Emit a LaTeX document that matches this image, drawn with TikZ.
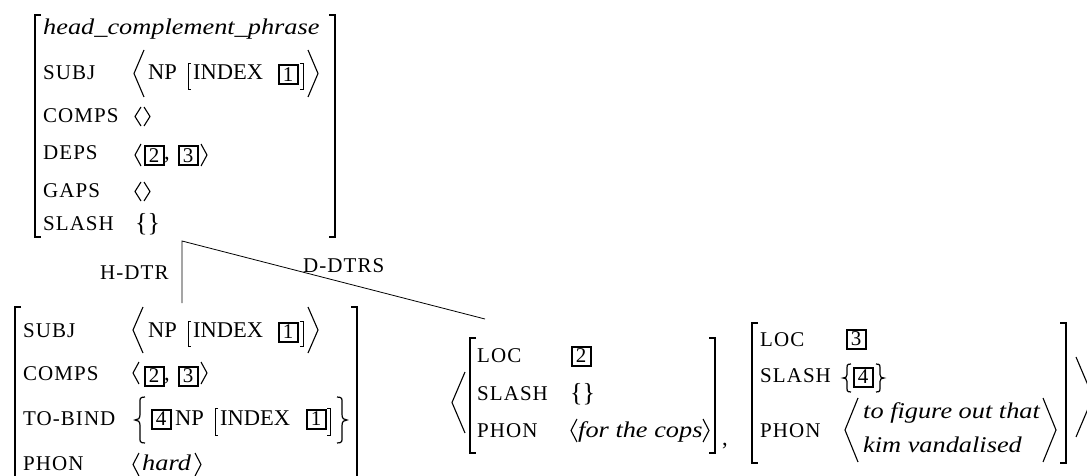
\documentclass[tikz,border=0pt]{standalone}
\usepackage{fontspec}
\setmainfont{Liberation Serif}
\newfontfamily\itfam{Liberation Serif Italic}[FakeStretch=1.17]
\newfontfamily\featfam{Liberation Serif}[LetterSpace=5]
\newcommand\rmsz{\fontsize{22.5}{27}\selectfont}
\newcommand\ftsz{\featfam\fontsize{21}{24}\selectfont}
\newcommand\itsz{\itfam\fontsize{22.5}{27}\selectfont}
\newcommand\avmLB[5]{\draw[#5] ({#1+#4},#2) -- (#1,#2) -- (#1,#3) -- ({#1+#4},#3);}
\newcommand\avmRB[5]{\draw[#5] ({#1-#4},#2) -- (#1,#2) -- (#1,#3) -- ({#1-#4},#3);}
\newcommand\avmLA[5]{\draw[#5] ({#1+#4},#2) -- (#1,{(#2+#3)/2}) -- ({#1+#4},#3);}
\newcommand\avmRA[5]{\draw[#5] ({#1-#4},#2) -- (#1,{(#2+#3)/2}) -- ({#1-#4},#3);}
\newcommand\avmLBr[4]{\draw[brc] ({#1+#4},#2) .. controls ({#1+#4*0.45},#2) and ({#1+#4*0.5},{#2+2}) .. ({#1+#4*0.5},{#2+0.12*(#3-#2)}) -- ({#1+#4*0.5},{#2+0.38*(#3-#2)}) .. controls ({#1+#4*0.5},{#2+0.47*(#3-#2)}) and ({#1+#4*0.3},{(#2+#3)/2}) .. (#1,{(#2+#3)/2}) .. controls ({#1+#4*0.3},{(#2+#3)/2}) and ({#1+#4*0.5},{#3-0.47*(#3-#2)}) .. ({#1+#4*0.5},{#3-0.38*(#3-#2)}) -- ({#1+#4*0.5},{#3-0.12*(#3-#2)}) .. controls ({#1+#4*0.5},{#3-2}) and ({#1+#4*0.45},#3) .. ({#1+#4},#3);}
\newcommand\avmRBr[4]{\draw[brc] ({#1-#4},#2) .. controls ({#1-#4*0.45},#2) and ({#1-#4*0.5},{#2+2}) .. ({#1-#4*0.5},{#2+0.12*(#3-#2)}) -- ({#1-#4*0.5},{#2+0.38*(#3-#2)}) .. controls ({#1-#4*0.5},{#2+0.47*(#3-#2)}) and ({#1-#4*0.3},{(#2+#3)/2}) .. (#1,{(#2+#3)/2}) .. controls ({#1-#4*0.3},{(#2+#3)/2}) and ({#1-#4*0.5},{#3-0.47*(#3-#2)}) .. ({#1-#4*0.5},{#3-0.38*(#3-#2)}) -- ({#1-#4*0.5},{#3-0.12*(#3-#2)}) .. controls ({#1-#4*0.5},{#3-2}) and ({#1-#4*0.45},#3) .. ({#1-#4},#3);}
\tikzset{
  txt/.style={anchor=base west, inner sep=0pt, font=\rmsz},
  feat/.style={anchor=base west, inner sep=0pt, font=\ftsz},
  itx/.style={anchor=base west, inner sep=0pt, font=\itsz},
  brtxt/.style={anchor=base west, inner sep=0pt, font=\fontsize{26}{28}\selectfont},
  tag/.style={draw, line width=2pt, inner sep=0pt, minimum width=19pt, minimum height=19pt, font=\fontsize{21}{21}\selectfont},
  brk/.style={line width=1.8pt},
  thin/.style={line width=0.9pt},
  ang/.style={line width=1.1pt},
  brc/.style={line width=1.2pt},
  tree/.style={line width=0.8pt}
}
\begin{document}
\begin{tikzpicture}[x=1pt,y=-1pt]
\useasboundingbox (0,0) rectangle (1087,476);
% ---- top AVM
\avmLB{35}{15}{237}{6}{brk}
\avmRB{335}{15}{237}{6}{brk}
\node[itx] (top-type) at (43,35) {head\_complement\_phrase};
\node[feat] (top-subj) at (43,80) {SUBJ};
\avmLA{134}{50}{97}{10}{ang}
\node[txt] (top-np) at (148,80) {NP};
\avmLB{188}{63}{89}{3}{thin}
\node[txt] (top-index) at (193,80) {INDEX};
\node[tag] (top-t1) at (288,75) {1};
\avmRB{303}{63}{89}{3}{thin}
\avmRA{318}{50}{97}{10}{ang}
\node[feat] (top-comps) at (43,123) {COMPS};
\avmLA{135}{107}{126}{6}{ang}
\avmRA{150}{107}{126}{6}{ang}
\node[feat] (top-deps) at (43,160) {DEPS};
\avmLA{135}{144}{166}{6}{ang}
\node[tag] (top-t2) at (154,156) {2};
\node[txt] (top-comma) at (164,160) {,};
\node[tag] (top-t3) at (188,156) {3};
\avmRA{207}{144}{166}{6}{ang}
\node[feat] (top-gaps) at (43,197) {GAPS};
\avmLA{135}{182}{201}{6}{ang}
\avmRA{150}{182}{201}{6}{ang}
\node[feat] (top-slash) at (43,230) {SLASH};
\node[brtxt] (top-slashv) at (135,231) {\{\}};
% ---- tree
\coordinate (apex) at (182,241);
\coordinate (hd-top) at (182,303);
\coordinate (dd-end) at (485,319);
\draw[tree] (hd-top) -- (apex) -- (dd-end);
\node[feat] (hdtr) at (100,279) {H-DTR};
\node[feat] (ddtrs) at (303,272) {D-DTRS};
% ---- head daughter
\avmLB{15}{307}{500}{6}{brk}
\avmRB{357}{307}{500}{6}{brk}
\node[feat] (hd-subj) at (23,337) {SUBJ};
\avmLA{133}{307}{353}{10}{ang}
\node[txt] (hd-np) at (148,337) {NP};
\avmLB{188}{321}{346}{3}{thin}
\node[txt] (hd-index) at (193,337) {INDEX};
\node[tag] (hd-t1) at (288,332) {1};
\avmRB{303}{321}{346}{3}{thin}
\avmRA{318}{307}{353}{10}{ang}
\node[feat] (hd-comps) at (23,380) {COMPS};
\avmLA{133}{362}{384}{6}{ang}
\node[tag] (hd-t2) at (154,376) {2};
\node[txt] (hd-comma) at (164,380) {,};
\node[tag] (hd-t3) at (188,376) {3};
\avmRA{207}{362}{384}{6}{ang}
\node[feat] (hd-tobind) at (23,425) {TO-BIND};
\avmLBr{135}{397}{443}{10}
\node[tag] (hd-t4) at (161,419) {4};
\node[txt] (hd-np2) at (175,425) {NP};
\avmLB{215}{408}{435}{3}{thin}
\node[txt] (hd-index2) at (220,425) {INDEX};
\node[tag] (hd-t1b) at (316,419) {1};
\avmRB{330}{408}{435}{3}{thin}
\avmRBr{347}{397}{443}{10}
\node[feat] (hd-phon) at (23,470) {PHON};
\avmLA{133}{453}{476}{6}{ang}
\node[itx] (hd-hard) at (142,470) {hard};
\avmRA{201}{453}{476}{6}{ang}
% ---- dependent daughters list
\avmLA{452}{372}{433}{13}{ang}
\avmLB{470}{338}{453}{6}{brk}
\avmRB{715}{338}{453}{6}{brk}
\node[feat] (d1-loc) at (477,362) {LOC};
\node[tag] (d1-t2) at (581,356) {2};
\node[feat] (d1-slash) at (477,400) {SLASH};
\node[brtxt] (d1-slashv) at (570,401) {\{\}};
\node[feat] (d1-phon) at (477,437) {PHON};
\avmLA{571}{419}{442}{6}{ang}
\node[itx] (d1-phonv) at (578,437) {for the cops};
\avmRA{709}{419}{442}{6}{ang}
\node[txt] (d-comma) at (722,445) {,};
\avmLB{752}{323}{463}{6}{brk}
\avmRB{1066}{323}{463}{6}{brk}
\node[feat] (d2-loc) at (760,346) {LOC};
\node[tag] (d2-t3) at (856,339) {3};
\node[feat] (d2-slash) at (760,382) {SLASH};
\avmLBr{843}{364}{392}{8}
\node[tag] (d2-t4) at (863,377) {4};
\avmRBr{884}{364}{392}{8}
\node[feat] (d2-phon) at (760,437) {PHON};
\avmLA{845}{398}{462}{13}{ang}
\node[itx] (d2-phon1) at (863,418) {to figure out that};
\node[itx] (d2-phon2) at (863,452) {kim vandalised};
\avmRA{1056}{398}{462}{13}{ang}
\avmRA{1093}{357}{437}{17}{ang}
\end{tikzpicture}
\end{document}
